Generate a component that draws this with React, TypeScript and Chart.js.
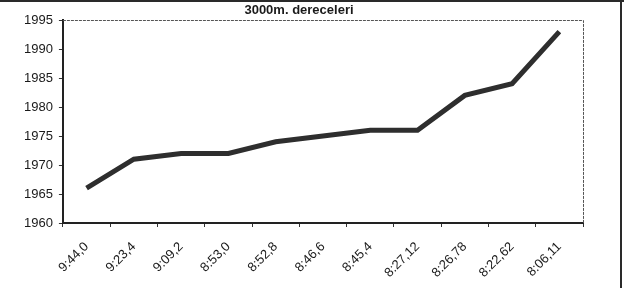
import React, { useEffect, useRef } from "react";
import { Chart, registerables } from "chart.js";

Chart.register(...registerables);

const categories: string[] = [
  "9:44,0", "9:23,4", "9:09,2", "8:53,0", "8:52,8", "8:46,6",
  "8:45,4", "8:27,12", "8:26,78", "8:22,62", "8:06,11",
];
const years: number[] = [1966, 1971, 1972, 1972, 1974, 1975, 1976, 1976, 1982, 1984, 1993];
const titleText = "3000m. dereceleri";
const yMin = 1960;
const yMax = 1995;
const yStep = 5;

const FONT = "'Liberation Sans', Arial, sans-serif";

const framePlugin = {
  id: "frame",
  afterDraw(chart: any) {
    const { ctx, chartArea, width } = chart;
    ctx.save();
    ctx.strokeStyle = "#2a2a2a";
    ctx.lineWidth = 2;
    ctx.beginPath();
    ctx.moveTo(0, 1);
    ctx.lineTo(width, 1);
    ctx.moveTo(621, 0);
    ctx.lineTo(621, chart.height);
    ctx.stroke();
    ctx.strokeStyle = "#555";
    ctx.lineWidth = 1;
    ctx.setLineDash([3, 1]);
    ctx.beginPath();
    ctx.moveTo(chartArea.left, chartArea.top + 0.5);
    ctx.lineTo(chartArea.right + 0.5, chartArea.top + 0.5);
    ctx.lineTo(chartArea.right + 0.5, chartArea.bottom);
    ctx.stroke();
    ctx.setLineDash([]);
    ctx.fillStyle = "#1a1a1a";
    ctx.font = `bold 13px ${FONT}`;
    ctx.textAlign = "center";
    ctx.textBaseline = "middle";
    ctx.fillText(titleText, 299, 10);
    ctx.restore();
  },
};

export default function App() {
  const ref = useRef<HTMLCanvasElement | null>(null);
  useEffect(() => {
    if (!ref.current) return;
    const chart = new Chart(ref.current, {
      type: "line",
      data: {
        labels: categories,
        datasets: [
          {
            data: years,
            borderColor: "#2e2e2e",
            borderWidth: 5,
            pointRadius: 0,
            tension: 0,
            fill: false,
          },
        ],
      },
      options: {
        animation: false,
        responsive: false,
        maintainAspectRatio: false,
        layout: { padding: { top: 20, right: 41, bottom: 0, left: 18 } },
        plugins: {
          legend: { display: false },
          title: { display: false },
          tooltip: { enabled: false },
        },
        scales: {
          x: {
            type: "category",
            offset: true,
            afterFit: (scale: any) => {
              scale.height = 65;
            },
            grid: {
              offset: true,
              display: true,
              drawOnChartArea: false,
              drawTicks: true,
              tickLength: 4,
              color: "#333",
            },
            border: { display: true, color: "#222", width: 2 },
            ticks: {
              color: "#1a1a1a",
              font: { family: FONT, size: 13 },
              maxRotation: 45,
              minRotation: 45,
              autoSkip: false,
              padding: 12,
            },
          },
          y: {
            min: yMin,
            max: yMax,
            grid: {
              display: true,
              drawOnChartArea: false,
              drawTicks: true,
              tickLength: 4,
              color: "#333",
            },
            border: { display: true, color: "#222", width: 2 },
            ticks: {
              stepSize: yStep,
              color: "#1a1a1a",
              font: { family: FONT, size: 13 },
              padding: 6,
              callback: (v: any) => String(v),
            },
          },
        },
      },
      plugins: [framePlugin],
    });
    return () => chart.destroy();
  }, []);
  return (
    <div style={{ position: "fixed", left: 0, top: 0, width: 624, height: 288, background: "#fff" }}>
      <canvas ref={ref} width={624} height={288} style={{ width: 624, height: 288 }} />
    </div>
  );
}
